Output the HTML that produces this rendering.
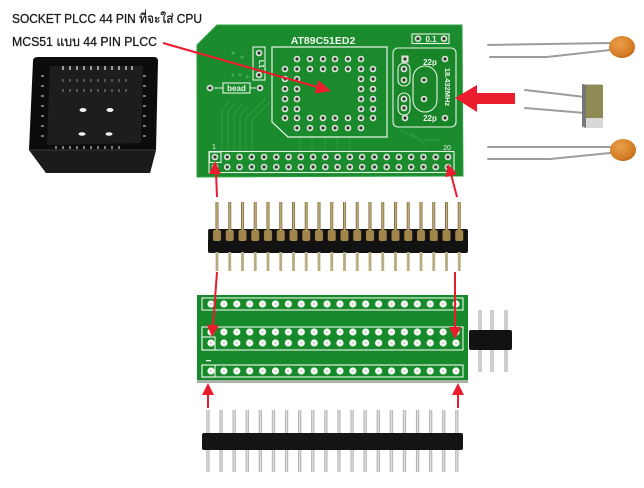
<!DOCTYPE html>
<html><head><meta charset="utf-8"><style>
html,body{margin:0;padding:0;background:#fff;}
svg{display:block;}
</style></head><body>
<svg width="644" height="488" viewBox="0 0 644 488" xmlns="http://www.w3.org/2000/svg">
<defs>
  <g id="hu"><circle r="3.3" fill="#dfe6dc"/><circle r="1.6" fill="#2d3b2c"/></g>
  <pattern id="pU" patternUnits="userSpaceOnUse" x="208.87" y="0" width="12.26" height="488">
    <circle cx="6.13" cy="157" r="3.3" fill="#dfe6dc"/><circle cx="6.13" cy="157" r="1.6" fill="#2d3b2c"/>
    <circle cx="6.13" cy="167" r="3.3" fill="#dfe6dc"/><circle cx="6.13" cy="167" r="1.6" fill="#2d3b2c"/>
  </pattern>
  <pattern id="pL" patternUnits="userSpaceOnUse" x="204.55" y="0" width="12.895" height="488">
    <circle cx="6.45" cy="304" r="3.6" fill="#f6f8f4"/><circle cx="6.45" cy="304" r="1.2" fill="#cfd6cc"/>
    <circle cx="6.45" cy="332" r="3.6" fill="#f6f8f4"/><circle cx="6.45" cy="332" r="1.2" fill="#cfd6cc"/>
    <circle cx="6.45" cy="343" r="3.6" fill="#f6f8f4"/><circle cx="6.45" cy="343" r="1.2" fill="#cfd6cc"/>
    <circle cx="6.45" cy="371" r="3.6" fill="#f6f8f4"/><circle cx="6.45" cy="371" r="1.2" fill="#cfd6cc"/>
  </pattern>
  <linearGradient id="gold" x1="0" x2="1" y1="0" y2="0">
    <stop offset="0" stop-color="#5e4b25"/><stop offset="0.5" stop-color="#d9c48e"/><stop offset="1" stop-color="#6a5629"/>
  </linearGradient>
  <linearGradient id="silver" x1="0" x2="1" y1="0" y2="0">
    <stop offset="0" stop-color="#8d8d8d"/><stop offset="0.5" stop-color="#f2f2f2"/><stop offset="1" stop-color="#8a8a8a"/>
  </linearGradient>
  <pattern id="pM" patternUnits="userSpaceOnUse" x="210.6" y="0" width="12.75" height="488">
    <rect x="4.9" y="202" width="3" height="30" fill="url(#gold)"/>
    <rect x="2.4" y="230" width="8" height="11" rx="2" fill="#a2854a"/>
    <rect x="5" y="252" width="2.8" height="19" fill="#b9ab80"/>
  </pattern>
  <pattern id="pB" patternUnits="userSpaceOnUse" x="201.45" y="0" width="13.1" height="488">
    <rect x="5" y="410" width="3" height="62" fill="url(#silver)"/>
  </pattern>
  <radialGradient id="capg" cx="0.4" cy="0.35" r="0.7">
    <stop offset="0" stop-color="#eba04a"/><stop offset="0.8" stop-color="#d27a22"/><stop offset="1" stop-color="#b5611a"/>
  </radialGradient>
</defs>

<!-- Text -->
<text x="12" y="23" font-family="Liberation Sans, Noto Sans CJK SC, DejaVu Sans, sans-serif" font-size="13" fill="#1a1a1a" stroke="#1a1a1a" stroke-width="0.3" textLength="190" lengthAdjust="spacingAndGlyphs">SOCKET PLCC 44 PIN ที่จะใส่ CPU</text>
<text x="12" y="46" font-family="Liberation Sans, Noto Sans CJK SC, DejaVu Sans, sans-serif" font-size="13" fill="#1a1a1a" stroke="#1a1a1a" stroke-width="0.3" textLength="145" lengthAdjust="spacingAndGlyphs">MCS51 แบบ 44 PIN PLCC</text>

<!-- PLCC socket -->
<g>
  <path d="M38,57 L154,57 Q158,57 158,61 L156,150 L150,173 L46,173 L29,150 L33,61 Q33,57 38,57 Z" fill="#0c0c0c"/>
  <path d="M29,150 L156,150 L150,173 L46,173 Z" fill="#1b1b1b"/>
  <path d="M29,150 L156,150" stroke="#3a3a3a" stroke-width="1"/>
  <path d="M50,66 L143,66 L141,143 L47,145 Z" fill="#1d1d1d"/>
  <g fill="#9a9a9a">
    <rect x="62" y="66" width="2" height="4"/><rect x="69" y="66" width="2" height="4"/><rect x="76" y="66" width="2" height="4"/><rect x="83" y="66" width="2" height="4"/><rect x="90" y="66" width="2" height="4"/><rect x="97" y="66" width="2" height="4"/><rect x="104" y="66" width="2" height="4"/><rect x="111" y="66" width="2" height="4"/><rect x="118" y="66" width="2" height="4"/><rect x="125" y="66" width="2" height="4"/><rect x="131" y="66" width="2" height="4"/>
  </g>
  <g fill="#555">
    <rect x="62" y="79" width="2" height="3"/><rect x="69" y="79" width="2" height="3"/><rect x="76" y="79" width="2" height="3"/><rect x="83" y="79" width="2" height="3"/><rect x="90" y="79" width="2" height="3"/><rect x="97" y="79" width="2" height="3"/><rect x="104" y="79" width="2" height="3"/><rect x="111" y="79" width="2" height="3"/><rect x="118" y="79" width="2" height="3"/><rect x="125" y="79" width="2" height="3"/>
    <rect x="62" y="89" width="2" height="3"/><rect x="69" y="89" width="2" height="3"/><rect x="76" y="89" width="2" height="3"/><rect x="83" y="89" width="2" height="3"/><rect x="90" y="89" width="2" height="3"/><rect x="97" y="89" width="2" height="3"/><rect x="104" y="89" width="2" height="3"/><rect x="111" y="89" width="2" height="3"/><rect x="118" y="89" width="2" height="3"/><rect x="125" y="89" width="2" height="3"/>
  </g>
  <g fill="#7a7a7a">
    <rect x="55" y="146" width="2" height="3"/><rect x="62" y="146" width="2" height="3"/><rect x="69" y="146" width="2" height="3"/><rect x="76" y="146" width="2" height="3"/><rect x="83" y="146" width="2" height="3"/><rect x="90" y="146" width="2" height="3"/><rect x="97" y="146" width="2" height="3"/><rect x="104" y="146" width="2" height="3"/><rect x="111" y="146" width="2" height="3"/><rect x="118" y="146" width="2" height="3"/>
    <rect x="41" y="75" width="3" height="2"/><rect x="41" y="85" width="3" height="2"/><rect x="41" y="95" width="3" height="2"/><rect x="41" y="105" width="3" height="2"/><rect x="41" y="115" width="3" height="2"/><rect x="41" y="125" width="3" height="2"/><rect x="41" y="135" width="3" height="2"/>
    <rect x="143" y="75" width="3" height="2"/><rect x="143" y="85" width="3" height="2"/><rect x="143" y="95" width="3" height="2"/><rect x="143" y="105" width="3" height="2"/><rect x="143" y="115" width="3" height="2"/><rect x="143" y="125" width="3" height="2"/><rect x="143" y="135" width="3" height="2"/>
  </g>
  <g fill="#f2f2f2">
    <ellipse cx="83" cy="110" rx="3.5" ry="2"/><ellipse cx="110" cy="110" rx="3.5" ry="2"/>
    <ellipse cx="82" cy="134" rx="3.5" ry="1.8"/><ellipse cx="109" cy="134" rx="3.5" ry="1.8"/>
  </g>
</g>

<!-- Upper PCB -->
<path d="M217,25 L462,25 L463,176 L197,177 L197,45 Z" fill="#1b8c2e" stroke="#2ea240" stroke-width="1"/>
<!-- traces -->
<g stroke="#33a546" stroke-width="1" fill="none" opacity="0.75">
  <path d="M222,150 L222,110 L230,100"/><path d="M228,150 L228,112 L236,102"/><path d="M234,150 L234,114 L242,104"/><path d="M240,150 L240,116 L248,106"/>
  <path d="M246,150 L246,118 L266,98"/><path d="M252,150 L252,120 L270,102"/>
  <path d="M300,137 L300,150"/><path d="M312,137 L312,150"/><path d="M325,137 L325,150"/><path d="M337,137 L337,150"/><path d="M350,137 L350,150"/>
  <path d="M317,74 L317,128"/><path d="M329,74 L329,128"/><path d="M341,74 L341,128"/>
  <path d="M400,130 L420,140 L440,140"/><path d="M410,132 L425,145"/>
</g>
<!-- socket outline -->
<path d="M272,47 L387,47 L387,137 L288,137 L272,122 Z" fill="#1a8a2c" stroke="#e6f2e4" stroke-width="1.2"/>
<text x="323" y="44" font-family="Liberation Sans, sans-serif" font-size="10.5" font-weight="bold" fill="#eef6ec" text-anchor="middle">AT89C51ED2</text>
<!-- socket holes -->
<g>
  <use href="#hu" x="297" y="59"/><use href="#hu" x="310" y="59"/><use href="#hu" x="323" y="59"/><use href="#hu" x="335" y="59"/><use href="#hu" x="348" y="59"/><use href="#hu" x="361" y="59"/>
  <use href="#hu" x="285" y="69"/><use href="#hu" x="297" y="69"/><use href="#hu" x="310" y="69"/><use href="#hu" x="323" y="69"/><use href="#hu" x="335" y="69"/><use href="#hu" x="348" y="69"/><use href="#hu" x="361" y="69"/><use href="#hu" x="373" y="69"/>
  <use href="#hu" x="285" y="79"/><use href="#hu" x="297" y="79"/><use href="#hu" x="361" y="79"/><use href="#hu" x="373" y="79"/>
  <use href="#hu" x="285" y="89"/><use href="#hu" x="297" y="89"/><use href="#hu" x="361" y="89"/><use href="#hu" x="373" y="89"/>
  <use href="#hu" x="285" y="99"/><use href="#hu" x="297" y="99"/><use href="#hu" x="361" y="99"/><use href="#hu" x="373" y="99"/>
  <use href="#hu" x="285" y="109"/><use href="#hu" x="297" y="109"/><use href="#hu" x="361" y="109"/><use href="#hu" x="373" y="109"/>
  <use href="#hu" x="285" y="118"/><use href="#hu" x="297" y="118"/><use href="#hu" x="310" y="118"/><use href="#hu" x="323" y="118"/><use href="#hu" x="335" y="118"/><use href="#hu" x="348" y="118"/><use href="#hu" x="361" y="118"/><use href="#hu" x="373" y="118"/>
  <use href="#hu" x="297" y="128"/><use href="#hu" x="310" y="128"/><use href="#hu" x="323" y="128"/><use href="#hu" x="335" y="128"/><use href="#hu" x="348" y="128"/><use href="#hu" x="361" y="128"/>
</g>
<!-- L box -->
<rect x="253" y="47" width="12" height="33" fill="none" stroke="#e6f2e4" stroke-width="1.1"/>
<use href="#hu" x="259" y="53"/><use href="#hu" x="259" y="75"/>
<text x="259" y="64" font-family="Liberation Sans, sans-serif" font-size="7" font-weight="bold" fill="#eef6ec" text-anchor="middle" transform="rotate(90 259 64)">L1</text>
<g fill="#3fae50"><circle cx="233" cy="53" r="1.6"/><circle cx="242" cy="57" r="1.6"/><circle cx="233" cy="75" r="1.6"/><circle cx="240" cy="75" r="1.6"/><circle cx="247" cy="77" r="1.6"/></g>
<!-- bead -->
<use href="#hu" x="210" y="88"/><use href="#hu" x="260" y="88"/>
<path d="M214,88 L223,88 M250,88 L256,88" stroke="#e6f2e4" stroke-width="1.1"/>
<rect x="223" y="83" width="27" height="10" fill="#1b8c2e" stroke="#e6f2e4" stroke-width="1.1"/>
<text x="236.5" y="91" font-family="Liberation Sans, sans-serif" font-size="8" font-weight="bold" fill="#eef6ec" text-anchor="middle">bead</text>
<!-- 0.1 box -->
<rect x="412" y="34" width="37" height="9.5" fill="none" stroke="#e6f2e4" stroke-width="1.1"/>
<use href="#hu" x="418" y="38.7"/><use href="#hu" x="444" y="38.7"/>
<text x="431" y="42" font-family="Liberation Sans, sans-serif" font-size="8" font-weight="bold" fill="#eef6ec" text-anchor="middle">0.1</text>
<!-- crystal box -->
<rect x="393" y="48" width="63" height="79" rx="5" fill="#188528" stroke="#e6f2e4" stroke-width="1.1"/>
<rect x="398" y="63" width="12" height="23" rx="6" fill="none" stroke="#e6f2e4" stroke-width="1.1"/>
<rect x="398" y="93" width="12" height="22" rx="6" fill="none" stroke="#e6f2e4" stroke-width="1.1"/>
<rect x="413" y="66" width="24" height="46" rx="12" fill="none" stroke="#e6f2e4" stroke-width="1.1"/>
<rect x="401.5" y="55.5" width="7" height="7" fill="#dfe6dc"/><circle cx="405" cy="59" r="1.6" fill="#2d3b2c"/>
<use href="#hu" x="445" y="59"/><use href="#hu" x="404" y="69"/><use href="#hu" x="404" y="80"/>
<use href="#hu" x="404" y="99"/><use href="#hu" x="404" y="108"/><use href="#hu" x="405" y="118"/><use href="#hu" x="445" y="118"/>
<use href="#hu" x="424" y="80"/><use href="#hu" x="424" y="99"/>
<text x="430" y="65" font-family="Liberation Sans, sans-serif" font-size="8" font-weight="bold" fill="#eef6ec" text-anchor="middle">22p</text>
<text x="430" y="121" font-family="Liberation Sans, sans-serif" font-size="8" font-weight="bold" fill="#eef6ec" text-anchor="middle">22p</text>
<text x="445" y="87" font-family="Liberation Sans, sans-serif" font-size="7.5" font-weight="bold" fill="#eef6ec" text-anchor="middle" transform="rotate(90 445 87)">18.432MHz</text>
<!-- header -->
<text x="214" y="149" font-family="Liberation Sans, sans-serif" font-size="7" fill="#eef6ec" text-anchor="middle">1</text>
<text x="447" y="150" font-family="Liberation Sans, sans-serif" font-size="7" fill="#eef6ec" text-anchor="middle">20</text>
<rect x="209" y="151.5" width="245" height="21" fill="none" stroke="#e6f2e4" stroke-width="1.1"/>
<rect x="209.5" y="152" width="11.5" height="10.5" fill="none" stroke="#e6f2e4" stroke-width="1.1"/>
<rect x="209" y="151" width="246" height="22" fill="url(#pU)"/>

<!-- right components -->
<g stroke-linecap="round" fill="none">
  <path d="M488,45 L610,43" stroke="#9c9c9c" stroke-width="2"/>
  <path d="M490,57 L547,57 L610,50" stroke="#9c9c9c" stroke-width="2"/>
  <path d="M488,147 L610,147" stroke="#9c9c9c" stroke-width="2"/>
  <path d="M488,159 L550,159 L610,153" stroke="#9c9c9c" stroke-width="2"/>
  <path d="M525,90 L585,97" stroke="#9c9c9c" stroke-width="2"/>
  <path d="M525,108 L585,113" stroke="#9c9c9c" stroke-width="2"/>
</g>
<ellipse cx="622" cy="47" rx="13" ry="11" fill="url(#capg)"/>
<ellipse cx="623" cy="150" rx="13" ry="11" fill="url(#capg)"/>
<g>
  <rect x="582" y="84" width="21" height="44" rx="2" fill="#c9c9c4"/>
  <rect x="586" y="85" width="17" height="33" fill="#8f8b55"/>
  <rect x="583" y="118" width="20" height="10" fill="#d8d8d6"/>
  <path d="M582,84 L586,85 L586,128 L582,126 Z" fill="#777"/>
</g>

<!-- middle header -->
<rect x="208" y="229" width="260" height="24" rx="2" fill="#121212"/>
<rect x="208" y="200" width="260" height="72" fill="url(#pM)"/>

<!-- lower PCB -->
<rect x="197" y="378" width="271" height="5" fill="#a9b2a8"/>
<rect x="197" y="295" width="271" height="85" fill="#168a2b"/>
<rect x="202" y="298" width="261" height="12" fill="none" stroke="#eef6ec" stroke-width="1.1"/>
<rect x="202" y="327" width="261" height="23" fill="none" stroke="#eef6ec" stroke-width="1.1"/>
<rect x="202" y="337" width="13" height="13" fill="none" stroke="#eef6ec" stroke-width="1.1"/>
<rect x="202" y="365" width="261" height="12" fill="none" stroke="#eef6ec" stroke-width="1.1"/>
<rect x="202" y="365" width="13" height="12" fill="none" stroke="#eef6ec" stroke-width="1.1"/>
<rect x="206" y="360" width="5" height="1.3" fill="#eef6ec"/>
<rect x="202" y="296" width="262" height="82" fill="url(#pL)"/>

<!-- right 3-pin header -->
<rect x="478.5" y="310" width="3" height="62" fill="url(#silver)"/>
<rect x="490.5" y="310" width="3" height="62" fill="url(#silver)"/>
<rect x="504.5" y="310" width="3" height="62" fill="url(#silver)"/>
<rect x="469" y="330" width="43" height="20" rx="2" fill="#121212"/>

<!-- bottom header -->
<rect x="202" y="408" width="262" height="66" fill="url(#pB)"/>
<rect x="202" y="433" width="261" height="17" rx="2" fill="#141414"/>

<!-- red arrows -->
<g fill="#ea1c2e" stroke="none">
  <path d="M163,43 L317,87" stroke="#ea1c2e" stroke-width="2.2"/>
  <polygon points="331,91 314.7,93.6 318.5,80.2"/>
  <path d="M217,197 L216,172" stroke="#ea1c2e" stroke-width="2"/>
  <polygon points="215,161 209,174 221,174"/>
  <path d="M457,197 L451,174" stroke="#ea1c2e" stroke-width="2"/>
  <polygon points="448,164 457,174 445.4,177.2"/>
  <path d="M217,272 L213,326" stroke="#ea1c2e" stroke-width="2"/>
  <polygon points="212,337 218.9,325.5 206.9,324.5"/>
  <path d="M455,272 L455,328" stroke="#ea1c2e" stroke-width="2"/>
  <polygon points="455,339 449,327 461,327"/>
  <path d="M208,408 L208,394" stroke="#ea1c2e" stroke-width="2"/>
  <polygon points="208,383 202,395 214,395"/>
  <path d="M458,408 L458,394" stroke="#ea1c2e" stroke-width="2"/>
  <polygon points="458,383 452,395 464,395"/>
  <polygon points="455,98 477,85 477,93 515,93 515,104 477,104 477,112"/>
</g>
</svg>
</body></html>
